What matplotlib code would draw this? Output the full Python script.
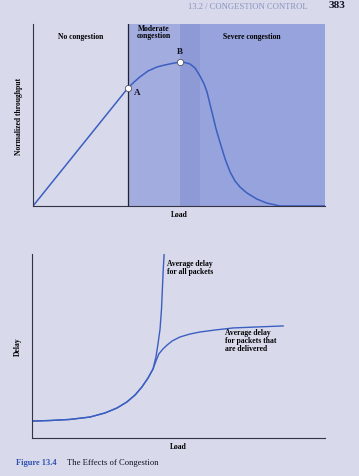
import matplotlib
matplotlib.use("Agg")
import matplotlib.pyplot as plt

plt.rcParams['font.family'] = ['Liberation Serif', 'DejaVu Serif']

# top panel: load vs normalized throughput
thr_load = [0, 3.25, 3.46, 3.66, 3.94, 4.25, 4.52, 4.76, 5.03, 5.21, 5.38, 5.55, 5.72,
            5.86, 5.96, 6.06, 6.16, 6.27, 6.40, 6.58, 6.75, 6.92, 7.09, 7.33, 7.67,
            8.01, 8.46, 10.0]
thr_vals = [0, 0.648, 0.681, 0.709, 0.742, 0.764, 0.775, 0.783, 0.791, 0.788, 0.780,
            0.758, 0.714, 0.670, 0.626, 0.560, 0.495, 0.423, 0.352, 0.258, 0.187, 0.137,
            0.104, 0.071, 0.038, 0.016, 0.0, 0.0]
pt_A = (3.25, 0.648)
pt_B = (5.03, 0.791)
region_edges = [3.25, 5.03, 5.72, 10.0]

# bottom panel: load vs delay
del_common_x = [0, 0.61, 1.30, 1.98, 2.49, 2.90, 3.24, 3.52, 3.75, 3.96, 4.13]
del_common_y = [0.092, 0.095, 0.101, 0.114, 0.136, 0.163, 0.196, 0.234, 0.277, 0.326, 0.375]
all_x = [4.23, 4.30, 4.37, 4.42, 4.45, 4.48, 4.51]
all_y = [0.440, 0.511, 0.592, 0.701, 0.810, 0.918, 1.0]
dlv_x = [4.23, 4.33, 4.47, 4.61, 4.78, 5.05, 5.39, 5.73, 6.25, 6.86, 7.61, 8.57]
dlv_y = [0.418, 0.457, 0.484, 0.505, 0.527, 0.549, 0.565, 0.576, 0.587, 0.598, 0.603, 0.609]

page = '#d8daec'
curve = '#3b5fc0'
W, H = 359, 477

fig = plt.figure(figsize=(W / 100, H / 100), dpi=100)
fig.patch.set_facecolor(page)

def box(x0, y0, x1, y1):
    return [x0 / W, 1 - y1 / H, (x1 - x0) / W, (y1 - y0) / H]

def style_axes(a, ylab):
    a.set_xlim(0, 10)
    a.set_ylim(0, 1)
    a.set_xticks([])
    a.set_yticks([])
    for s in ['top', 'right']:
        a.spines[s].set_visible(False)
    for s in ['left', 'bottom']:
        a.spines[s].set_color('#333344')
        a.spines[s].set_linewidth(0.8)
    a.set_xlabel('Load', fontsize=5.5, fontweight='bold', labelpad=3)
    a.set_ylabel(ylab, fontsize=5.5, fontweight='bold', labelpad=7)

# ---- top
ax = fig.add_axes(box(33, 25, 325, 207))
ax.set_facecolor(page)
ax.axvspan(region_edges[0], region_edges[1], color='#a2acdf', lw=0)
ax.axvspan(region_edges[1], region_edges[2], color='#8d9ad6', lw=0)
ax.axvspan(region_edges[2], region_edges[3], color='#97a3dc', lw=0)
ax.axvline(region_edges[0], color='#222233', lw=0.9)
ax.plot(thr_load, thr_vals, color=curve, lw=1.1)
for (px, py), lab, dx, dy in [(pt_A, 'A', 0.3, -0.02), (pt_B, 'B', 0.0, 0.06)]:
    ax.plot(px, py, 'o', ms=4.5, mfc='white', mec='#555566', mew=0.6)
    ax.text(px + dx, py + dy, lab, fontsize=6.5, fontweight='bold',
            ha='center', va='center', color='#111122')
ax.text(1.63, 0.935, 'No congestion', fontsize=5.5, fontweight='bold', ha='center', va='center')
ax.text(4.15, 0.96, 'Moderate\ncongestion', fontsize=5.5, fontweight='bold', ha='center',
        va='center', linespacing=0.9)
ax.text(7.5, 0.935, 'Severe congestion', fontsize=5.5, fontweight='bold', ha='center', va='center')
style_axes(ax, 'Normalized throughput')

# ---- bottom
bx = fig.add_axes(box(32, 255, 325, 439))
bx.set_facecolor(page)
bx.plot(del_common_x + all_x, del_common_y + all_y, color=curve, lw=1.0)
bx.plot(del_common_x + dlv_x, del_common_y + dlv_y, color=curve, lw=1.0)
bx.text(4.60, 0.93, 'Average delay\nfor all packets', fontsize=5.5, fontweight='bold',
        ha='left', va='center', linespacing=1.0)
bx.text(6.6, 0.53, 'Average delay\nfor packets that\nare delivered', fontsize=5.5,
        fontweight='bold', ha='left', va='center', linespacing=1.0)
style_axes(bx, 'Delay')

# page header and caption
fig.text(248 / W, 1 - 7 / H, '13.2 / CONGESTION CONTROL', fontsize=6.2, color='#8a93bd',
         ha='center', va='center')
fig.text(337 / W, 1 - 6 / H, '383', fontsize=8, fontweight='bold', color='#111122',
         ha='center', va='center')
fig.text(16 / W, 1 - 463 / H, 'Figure 13.4', fontsize=6, fontweight='bold', color='#3050b0',
         ha='left', va='center')
fig.text(67 / W, 1 - 463 / H, 'The Effects of Congestion', fontsize=6.2, color='#111122',
         ha='left', va='center')

fig.savefig('out.png', dpi=100, facecolor=page)
